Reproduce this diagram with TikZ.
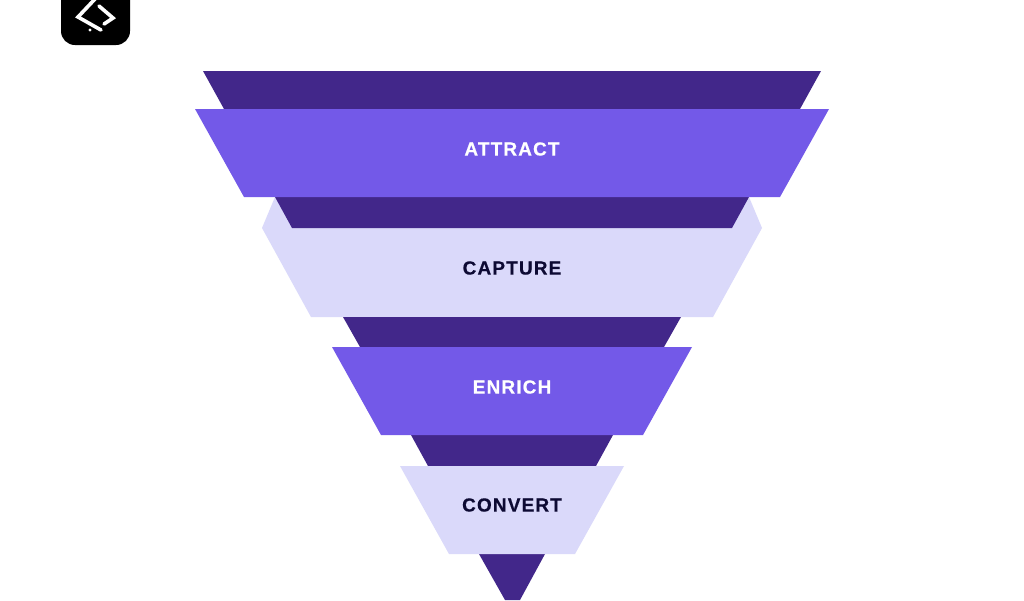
\documentclass[tikz,border=0pt]{standalone}
\usepackage{fontspec}
\setmainfont{Liberation Sans}
\newfontfamily\labelfont[LetterSpace=6.0,FakeBold=0.4]{Liberation Sans Bold}
\usepackage{tikz}
\definecolor{bandcolor}{HTML}{42278A}
\definecolor{midcolor}{HTML}{7359E8}
\definecolor{lightcolor}{HTML}{DAD9FA}
\definecolor{inkcolor}{HTML}{0D0A33}
\tikzstyle{stage} = [font=\labelfont\fontsize{19}{21}\selectfont, inner sep=0pt]
\tikzstyle{icon} = [draw=white, line width=3.6pt, line cap=round, line join=miter]

\begin{document}
\begin{tikzpicture}[x=1pt, y=-1pt]

    \useasboundingbox (0,0) rectangle (1024,600);
    \fill[white] (0,0) rectangle (1024,600);

    % logo
    \fill[black, rounded corners=14pt] (61,-30) rectangle (130,45);
    \draw[icon] (95,-1) -- (78,17) -- (101,30);
    \draw[icon] (99,6) -- (113,18) -- (104,24);
    \fill[white] (90,30) circle (1.6);

    % light shape that shows behind the second band
    \fill[lightcolor] (275,197) -- (262,228) -- (311,317) -- (713,317) -- (762,228) -- (749,197) -- cycle;

    % dark bands
    \foreach \ya/\yb/\xa/\xb in {71/109/203/224, 197/228/275/292, 317/347/343/360, 435/466/411/428}
        \fill[bandcolor] (\xa,\ya) -- (1024-\xa,\ya) -- (1024-\xb,\yb) -- (\xb,\yb) -- cycle;
    \fill[bandcolor] (479,554) -- (545,554) -- (520,600) -- (505,600) -- cycle;

    % stages
    \foreach \ya/\xa/\shade in {109/195/midcolor, 347/332/midcolor, 466/400/lightcolor}
        \fill[\shade] (\xa,\ya) -- (1024-\xa,\ya) -- (1024-\xa-49,\ya+88) -- (\xa+49,\ya+88) -- cycle;

    \foreach \y/\name/\tone in {149/ATTRACT/white, 268/CAPTURE/inkcolor, 387/ENRICH/white, 505/CONVERT/inkcolor}
        \node[stage, text=\tone] (\name) at (512,\y) {\name};

\end{tikzpicture}
\end{document}
